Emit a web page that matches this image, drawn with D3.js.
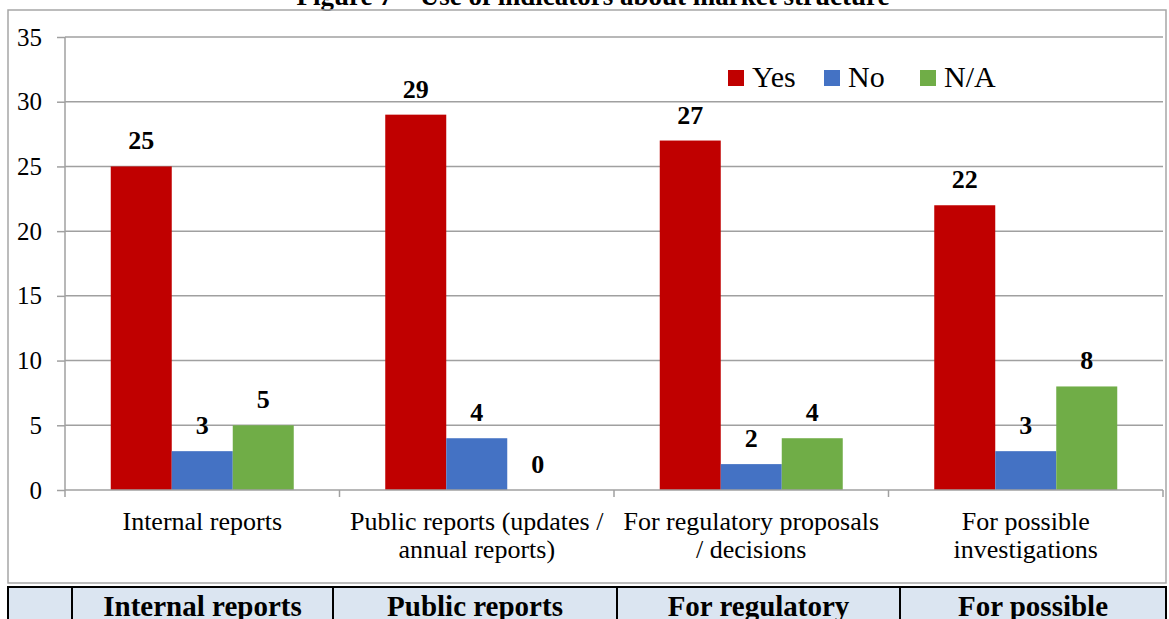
<!DOCTYPE html>
<html>
<head>
<meta charset="utf-8">
<script src="https://cdn.jsdelivr.net/npm/d3@7"></script>
<style>
  body { margin: 0; background: #fff; }
  svg { display: block; font-family: "Liberation Serif", "Times New Roman", serif; }
</style>
</head>
<body>
<svg id="chart" width="1169" height="619"></svg>
<script>
var categories = [
  ["Internal reports"],
  ["Public reports (updates /", "annual reports)"],
  ["For regulatory proposals", "/ decisions"],
  ["For possible", "investigations"]
];
var seriesNames = ["Yes", "No", "N/A"];
var seriesColors = ["#c00000", "#4472c4", "#70ad47"];
var yesValues = [25, 29, 27, 22];
var noValues = [3, 4, 2, 3];
var naValues = [5, 0, 4, 8];
var yTicks = [0, 5, 10, 15, 20, 25, 30, 35];
var tableHeads = ["", "Internal reports", "Public reports", "For regulatory", "For possible"];
var titleText = "Figure 7 \u2013 Use of indicators about market structure";

var svg = d3.select("#chart");
var values = [yesValues, noValues, naValues];
var catKeys = categories.map(function(d, i){ return i; });

// plot area
let plotLeft = 65, plotRight = 1163, plotTop = 37, plotBottom = 490;

// title (cut off at top like the source)
svg.append("text")
  .attr("x", 593).attr("y", 5)
  .attr("text-anchor", "middle")
  .attr("font-size", "27px").attr("font-weight", "bold")
  .text(titleText);

// outer chart frame
svg.append("rect")
  .attr("x", 8).attr("y", 10)
  .attr("width", 1158).attr("height", 573)
  .attr("fill", "none").attr("stroke", "#a6a6a6").attr("stroke-width", 1.5);

yScale = d3.scaleLinear().domain([0, 35]).range([plotBottom, plotTop]);
x0 = d3.scaleBand().domain(catKeys).range([plotLeft, plotRight]).paddingInner(0).paddingOuter(0);
x1 = d3.scaleBand().domain(seriesNames).range([0, x0.bandwidth()]).paddingInner(0).paddingOuter(0.75);

// y ticks
let yAxis = d3.axisLeft(yScale).tickValues(yTicks).tickSize(8).tickPadding(15);
let gy = svg.append("g")
  .attr("transform", `translate(${plotLeft},0)`)
  .call(yAxis)
  .attr("font-family", null)
  .attr("font-size", null);
gy.select(".domain").remove();
gy.selectAll(".tick line").attr("stroke", "#a0a0a0").attr("stroke-width", 1.5);
gy.selectAll(".tick text")
  .style("font-size", "25px")
  .style("font-family", "'Liberation Serif', 'Times New Roman', serif")
  .attr("fill", "#000");

// gridlines
svg.append("g")
  .selectAll("line")
  .data(yTicks.filter(function(d){ return d > 0; }))
  .enter().append("line")
    .attr("x1", plotLeft).attr("x2", plotRight)
    .attr("y1", function(d){ return yScale(d); })
    .attr("y2", function(d){ return yScale(d); })
    .attr("stroke", "#a0a0a0").attr("stroke-width", 1.5);

// y axis line
svg.append("line")
  .attr("x1", plotLeft).attr("x2", plotLeft).attr("y1", plotTop).attr("y2", plotBottom)
  .attr("stroke", "#a0a0a0").attr("stroke-width", 1.5);

// bars
let groups = svg.append("g").selectAll("g")
  .data(catKeys)
  .enter().append("g")
    .attr("transform", function(d){ return `translate(${x0(d)},0)`; });

groups.selectAll("rect")
  .data(function(c){ return seriesNames.map(function(s, j){ return {s: s, v: values[j][c], j: j}; }); })
  .enter().append("rect")
    .attr("x", function(d){ return x1(d.s); })
    .attr("y", function(d){ return yScale(d.v); })
    .attr("width", x1.bandwidth())
    .attr("height", function(d){ return plotBottom - yScale(d.v); })
    .style("fill", function(d){ return seriesColors[d.j]; });

groups.selectAll("text")
  .data(function(c){ return seriesNames.map(function(s, j){ return {s: s, v: values[j][c]}; }); })
  .enter().append("text")
    .attr("x", function(d){ return x1(d.s) + x1.bandwidth() / 2; })
    .attr("y", function(d){ return yScale(d.v) - 17; })
    .attr("text-anchor", "middle")
    .attr("font-size", "26px").attr("font-weight", "bold")
    .text(function(d){ return d.v; });

// x axis line and tick marks at category boundaries
svg.append("line")
  .attr("x1", plotLeft).attr("x2", plotRight).attr("y1", plotBottom).attr("y2", plotBottom)
  .attr("stroke", "#a0a0a0").attr("stroke-width", 1.5);
let bounds = catKeys.map(function(d){ return x0(d); }).concat([plotRight]);
svg.append("g").selectAll("line")
  .data(bounds)
  .enter().append("line")
    .attr("x1", function(d){ return d; }).attr("x2", function(d){ return d; })
    .attr("y1", plotBottom).attr("y2", plotBottom + 7)
    .attr("stroke", "#a0a0a0").attr("stroke-width", 1.5);

// category labels
let catText = svg.append("g").selectAll("text")
  .data(catKeys)
  .enter().append("text")
    .attr("x", function(d){ return x0(d) + x0.bandwidth() / 2; })
    .attr("y", 530)
    .attr("text-anchor", "middle")
    .attr("font-size", "26px");
catText.selectAll("tspan")
  .data(function(d){ return categories[d]; })
  .enter().append("tspan")
    .attr("x", function(){ return d3.select(this.parentNode).attr("x"); })
    .attr("dy", function(d, i){ return i === 0 ? 0 : 28; })
    .text(function(d){ return d; });

// legend
let legend = svg.append("g").attr("transform", "translate(728,70)");
seriesNames.forEach(function(s, j){
  let item = legend.append("g").attr("transform", `translate(${j * 96},0)`);
  item.append("rect").attr("width", 16).attr("height", 16).style("fill", seriesColors[j]);
  item.append("text").attr("x", 24).attr("y", 17)
    .attr("font-size", "30px").text(s);
});

// table strip at the bottom
let colEdges = [8, 72, 333, 617, 900, 1166];
let table = svg.append("g");
table.selectAll("rect")
  .data(tableHeads)
  .enter().append("rect")
    .attr("x", function(d, i){ return colEdges[i]; })
    .attr("y", 587)
    .attr("width", function(d, i){ return colEdges[i + 1] - colEdges[i]; })
    .attr("height", 40)
    .attr("fill", "#dbe5f1").attr("stroke", "#000").attr("stroke-width", 2);
table.selectAll("text")
  .data(tableHeads)
  .enter().append("text")
    .attr("x", function(d, i){ return (colEdges[i] + colEdges[i + 1]) / 2; })
    .attr("y", 616)
    .attr("text-anchor", "middle")
    .attr("font-size", "29px").attr("font-weight", "bold")
    .text(function(d){ return d; });
</script>
</body>
</html>
